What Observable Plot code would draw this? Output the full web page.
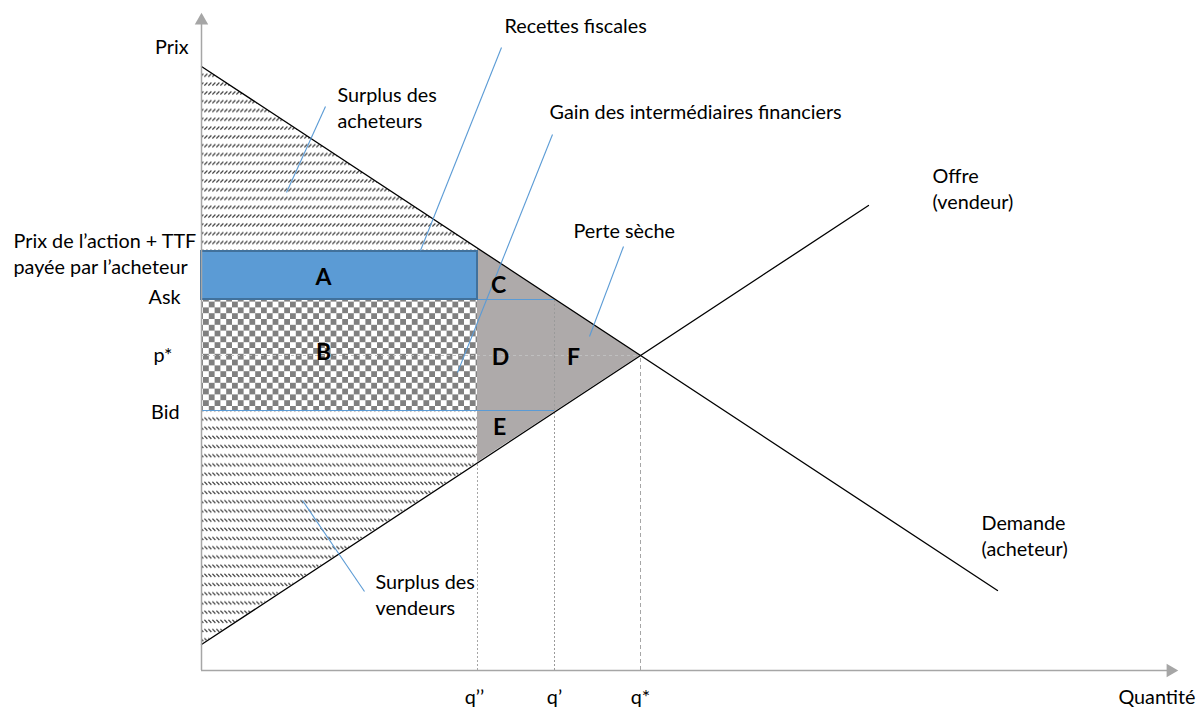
<!DOCTYPE html>
<html><head><meta charset="utf-8">
<script src="https://cdn.jsdelivr.net/npm/d3@7"></script>
<script src="https://cdn.jsdelivr.net/npm/@observablehq/plot@0.6"></script>
<style>body{margin:0;background:#fff} svg{display:block}</style>
</head><body><div id="chart"></div>
<script>
// ---- data (quantity units / price units) ----
const demand = [{q: 0, p: 60.4}, {q: 79.6, p: 8.0}];
const supply = [{q: 0, p: 2.6}, {q: 66.7, p: 46.5}];
const priceNames = ["Prix de l’action + TTF\npayée par l’acheteur", "Ask", "p*", "Bid"];
const priceValues = [41.9, 37.1, 31.5, 26.0];
const quantityNames = ["q’’", "q’", "q*"];
const quantityValues = [27.6, 35.3, 43.9];
const demandAtQ2 = 42.2;   // demand price at q''
const supplyAtQ2 = 20.8;   // supply price at q''
const buyerEdgeQ = 28.1;   // demand quantity at TTF price
const axisMax = {q: 96.9, p: 65};
const letters = ["A", "B", "C", "D", "E", "F"];
const letterQ = [12.2, 12.2, 29.7, 29.9, 29.8, 37.2];
const letterP = [39.3, 31.8, 38.5, 31.3, 24.3, 31.3];
const calloutTexts = ["Recettes fiscales", "Gain des intermédiaires financiers", "Perte sèche", "Surplus des\nacheteurs", "Surplus des\nvendeurs", "Offre\n(vendeur)", "Demande\n(acheteur)"];
const calloutQ = [30.3, 34.8, 37.2, 13.6, 17.4, 73.1, 78.0];
const calloutP = [64.6, 56.0, 44.1, 56.35, 7.7, 48.25, 13.6];
const leaderFrom = [[30.0, 62.3], [35.1, 53.6], [42.2, 42.4], [12.4, 56.4], [10.1, 17.0]];
const leaderTo = [[21.9, 42.0], [25.6, 29.8], [38.8, 33.4], [8.5, 47.8], [16.3, 7.9]];

const [pTTF, pAsk, pStar, pBid] = priceValues;
const [q2, q1, qStar] = quantityValues;

const FONT = "Lato, 'Open Sans', sans-serif";
const FS = 19.8;

const buyerSurplus = [{q: 0, lo: pTTF, hi: demand[0].p}, {q: buyerEdgeQ, lo: pTTF, hi: pTTF}];
const sellerSurplus = [{q: 0, lo: supply[0].p, hi: pBid}, {q: q2, lo: supplyAtQ2, hi: pBid}];
const deadweight = [{q: q2, lo: supplyAtQ2, hi: demandAtQ2}, {q: qStar, lo: pStar, hi: pStar}];
const leaders = leaderFrom.map((f, i) => ({x1: f[0], y1: f[1], x2: leaderTo[i][0], y2: leaderTo[i][1]}));
const callouts = calloutTexts.map((t, i) => ({t, q: calloutQ[i], p: calloutP[i]}));
const letterData = letters.map((t, i) => ({t, q: letterQ[i], p: letterP[i]}));
const leftStart = [{t: priceNames[0], q: -18.8, p: pTTF - 0.15}];
const leftEnd = [
  {t: priceNames[1], q: -2.1, p: pAsk + 0.2},
  {t: priceNames[2], q: -2.9, p: pStar},
  {t: priceNames[3], q: -2.2, p: pBid - 0.2},
  {t: "Prix", q: -1.3, p: 62.3}
];
const qOffsets = [-0.3, 0, 0];
const qLabels = quantityNames.map((t, i) => ({t, q: quantityValues[i] + qOffsets[i], p: -2.7}));

const chart = Plot.plot({
  width: 1198, height: 711,
  marginLeft: 201, marginRight: 28, marginTop: 20, marginBottom: 41,
  x: {domain: [0, axisMax.q], axis: null},
  y: {domain: [0, axisMax.p], axis: null},
  style: {fontFamily: FONT, background: "#fff"},
  marks: [
    Plot.areaY(buyerSurplus, {x: "q", y1: "lo", y2: "hi", fill: "url(#hatchUp)"}),
    Plot.areaY(sellerSurplus, {x: "q", y1: "lo", y2: "hi", fill: "url(#hatchDown)"}),
    Plot.rect([{x1: 0, x2: q2, y1: pBid, y2: pAsk}], {x1: "x1", x2: "x2", y1: "y1", y2: "y2", fill: "url(#checker)"}),
    Plot.areaY(deadweight, {x: "q", y1: "lo", y2: "hi", fill: "#AEAAAA"}),
    // guide lines
    Plot.ruleY([pStar], {x1: 0, x2: qStar, stroke: "#BFBFBF", strokeDasharray: "3,3", strokeWidth: 1}),
    Plot.ruleX([q2], {y1: 0, y2: supplyAtQ2, stroke: "#A6A6A6", strokeDasharray: "2,2", strokeWidth: 1}),
    Plot.ruleX([q1], {y1: 0, y2: pAsk, stroke: "#9a9a9a", strokeDasharray: "2,2", strokeWidth: 1}),
    Plot.ruleX([qStar], {y1: 0, y2: pStar, stroke: "#A6A6A6", strokeDasharray: "4,3", strokeWidth: 1}),
    Plot.ruleY([pAsk, pBid], {x1: 0, x2: q1, stroke: "#5B9BD5", strokeWidth: 1.2}),
    Plot.rect([{x1: 0, x2: q2, y1: pAsk, y2: pTTF}], {x1: "x1", x2: "x2", y1: "y1", y2: "y2", fill: "#5B9BD5", stroke: "#41719C", strokeWidth: 2, inset: 0}),
    // curves
    Plot.line(demand, {x: "q", y: "p", stroke: "#000", strokeWidth: 1.3}),
    Plot.line(supply, {x: "q", y: "p", stroke: "#000", strokeWidth: 1.3}),
    // axes
    Plot.ruleY([0], {x1: 0, x2: axisMax.q, stroke: "#A6A6A6", strokeWidth: 1.5}),
    Plot.ruleX([0], {y1: 0, y2: axisMax.p, stroke: "#A6A6A6", strokeWidth: 1.5}),
    Plot.dot([{q: axisMax.q, p: 0}], {x: "q", y: "p", symbol: "triangle", r: 5, rotate: 90, fill: "#A6A6A6", stroke: "none"}),
    Plot.dot([{q: 0, p: axisMax.p}], {x: "q", y: "p", symbol: "triangle", r: 5, fill: "#A6A6A6", stroke: "none"}),
    // leaders
    Plot.link(leaders, {x1: "x1", y1: "y1", x2: "x2", y2: "y2", stroke: "#5B9BD5", strokeWidth: 1.1}),
    // texts
    Plot.text(callouts, {x: "q", y: "p", text: "t", textAnchor: "start", fontSize: FS, lineHeight: 1.3, fill: "#000"}),
    Plot.text(leftStart, {x: "q", y: "p", text: "t", textAnchor: "start", fontSize: FS, lineHeight: 1.3, fill: "#000"}),
    Plot.text(leftEnd, {x: "q", y: "p", text: "t", textAnchor: "end", fontSize: FS, fill: "#000"}),
    Plot.text(qLabels, {x: "q", y: "p", text: "t", fontSize: FS, fill: "#000"}),
    Plot.text(["Quantité"], {x: 99.4, y: -2.7, textAnchor: "end", fontSize: FS, fill: "#000"}),
    Plot.text(letterData, {x: "q", y: "p", text: "t", fontSize: 23, fontWeight: "bold", fill: "#000"})
  ]
});

const defs = d3.select(chart).insert("defs", ":first-child");
const up = defs.append("pattern").attr("id", "hatchUp").attr("patternUnits", "userSpaceOnUse").attr("width", 4).attr("height", 8.8);
up.append("path").attr("d", "M0.4,6.4L3.4,3.4").attr("stroke", "#404040").attr("stroke-width", 1.2).attr("fill", "none");
const down = defs.append("pattern").attr("id", "hatchDown").attr("patternUnits", "userSpaceOnUse").attr("width", 4).attr("height", 9.2);
down.append("path").attr("d", "M0.4,3.4L3.4,6.4").attr("stroke", "#404040").attr("stroke-width", 1.2).attr("fill", "none");
const ch = defs.append("pattern").attr("id", "checker").attr("patternUnits", "userSpaceOnUse").attr("width", 11.6).attr("height", 11.6);
ch.append("rect").attr("width", 11.6).attr("height", 11.6).attr("fill", "#fff");
ch.append("rect").attr("width", 5.8).attr("height", 5.8).attr("fill", "#808080");
ch.append("rect").attr("x", 5.8).attr("y", 5.8).attr("width", 5.8).attr("height", 5.8).attr("fill", "#808080");

document.getElementById("chart").appendChild(chart);
</script>
</body></html>
